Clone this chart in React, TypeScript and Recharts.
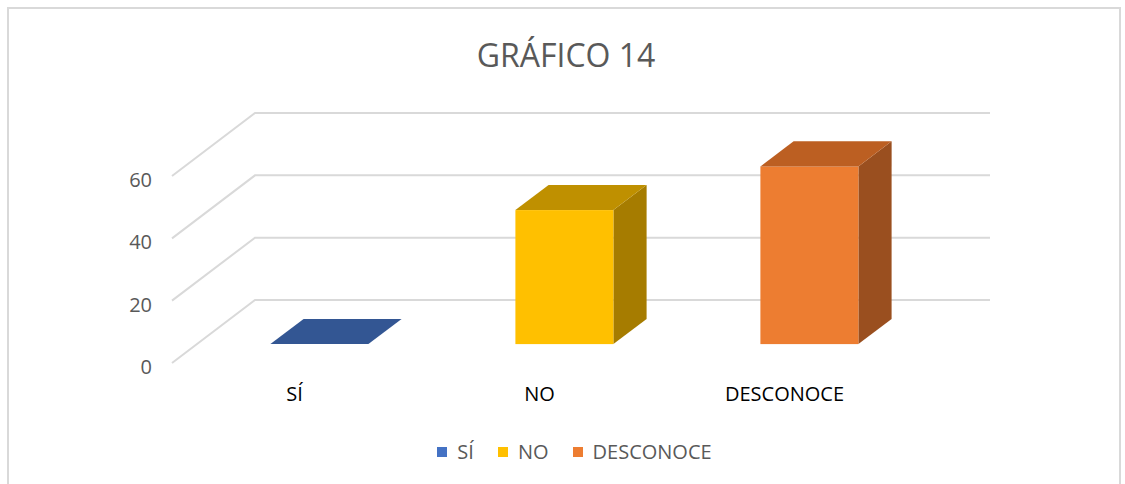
import { BarChart, Bar, XAxis, YAxis, CartesianGrid, Cell, Legend } from "recharts";

const categories = ["SÍ", "NO", "DESCONOCE"];
const values = [0, 43, 57];
const yTicks = [0, 20, 40, 60];
const frontColors = ["#4472C4", "#FFC000", "#ED7D31"];
const topColors = ["#335693", "#BF9000", "#BC5F22"];
const sideColors = ["#2A4878", "#A67C00", "#9A4F1F"];

const data = categories.map((name, i) => ({ name, value: values[i] }));

// oblique depth of the 3d box (floor runs up and to the right)
const DEPTH_X = 83;
const DEPTH_Y = 63;
const FRONT = 0.3; // bar front sits 30% into the depth
const BAR_DEPTH = 0.4;
const FONT = "'Open Sans', sans-serif";

function GridLine(props: any) {
  const { x1, y1, x2 } = props;
  const pts = `${x1},${y1} ${x1 + DEPTH_X},${y1 - DEPTH_Y} ${x2 + DEPTH_X},${y1 - DEPTH_Y}`;
  return <polyline key={props.key ?? `g-${y1}`} points={pts} fill="none" stroke="#d9d9d9" strokeWidth={2} />;
}

function Box3D(props: any) {
  const { x, y, width, height, payload } = props;
  const i = categories.indexOf(payload.name);
  const fx = x + FRONT * DEPTH_X;
  const fy = y - FRONT * DEPTH_Y;
  const dx = BAR_DEPTH * DEPTH_X;
  const dy = BAR_DEPTH * DEPTH_Y;
  const h = Math.max(height, 0);
  const top = `${fx},${fy} ${fx + dx},${fy - dy} ${fx + width + dx},${fy - dy} ${fx + width},${fy}`;
  const side = `${fx + width},${fy} ${fx + width + dx},${fy - dy} ${fx + width + dx},${fy - dy + h} ${fx + width},${fy + h}`;
  return (
    <g>
      {h > 0 && <polygon points={side} fill={sideColors[i]} />}
      {h > 0 && <rect x={fx} y={fy} width={width} height={h} fill={frontColors[i]} />}
      <polygon points={top} fill={topColors[i]} />
    </g>
  );
}

function LegendContent() {
  return (
    <div style={{ display: "flex", justifyContent: "center", fontFamily: FONT, fontSize: 20, color: "#595959", paddingLeft: 48 }}>
      {categories.map((c, i) => (
        <div key={c} style={{ display: "flex", alignItems: "center", marginRight: 24 }}>
          <span style={{ width: 10, height: 10, background: frontColors[i], display: "inline-block", marginRight: 10 }} />
          <span>{c}</span>
        </div>
      ))}
    </div>
  );
}

export default function App() {
  return (
    <div style={{ position: "fixed", left: 0, top: 0, width: 1125, height: 484, background: "#fff", overflow: "hidden" }}>
      <div style={{ position: "absolute", left: 7, top: 7, width: 1114, height: 520, border: "2px solid #d9d9d9", boxSizing: "border-box" }} />
      <svg width={1125} height={100} style={{ position: "absolute", left: 0, top: 0 }}>
        <text x={566} y={67} textAnchor="middle" fontFamily={FONT} fontSize={32} fill="#595959">
          GRÁFICO 14
        </text>
      </svg>
      <div style={{ position: "absolute", left: 0, top: 0 }}>
        <BarChart width={1125} height={484} data={data} margin={{ top: 176, right: 218, bottom: 81, left: 112 }} barCategoryGap="30%">
          <CartesianGrid vertical={false} horizontal={(p: any) => <GridLine {...p} />} />
          <XAxis
            dataKey="name"
            height={40}
            axisLine={false}
            tickLine={false}
            tickSize={0}
            tickMargin={24}
            tick={{ fill: "#000", fontSize: 20, fontFamily: FONT }}
          />
          <YAxis
            width={60}
            domain={[0, 60]}
            ticks={yTicks}
            axisLine={false}
            tickLine={false}
            tickSize={0}
            tickMargin={20}
            tick={{ fill: "#595959", fontSize: 20, fontFamily: FONT, dy: 4 }}
          />
          <Legend verticalAlign="middle" content={<LegendContent />} wrapperStyle={{ top: 438, left: 0, width: 1125 }} />
          <Bar dataKey="value" shape={<Box3D />} isAnimationActive={false}>
            {data.map((d, i) => (
              <Cell key={d.name} fill={frontColors[i]} />
            ))}
          </Bar>
        </BarChart>
      </div>
    </div>
  );
}
